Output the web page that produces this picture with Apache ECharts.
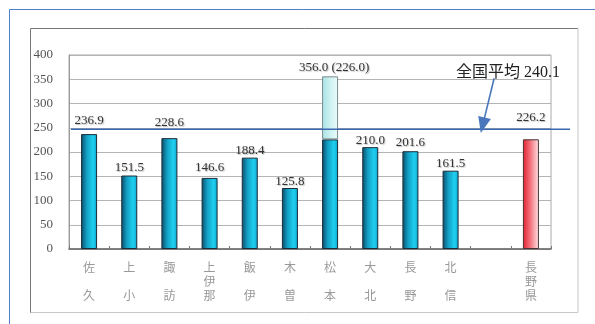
<!DOCTYPE html>
<html>
<head>
<meta charset="utf-8">
<script src="https://cdn.jsdelivr.net/npm/echarts@6/dist/echarts.min.js"></script>
<style>
  html, body { margin: 0; padding: 0; background: #fff; }
  #chart { width: 595px; height: 324px; }
</style>
</head>
<body>
<div id="chart"></div>
<script>
// 地域ごとの値（空欄は長野県との間のすき間）
const regions = ['佐久', '上小', '諏訪', '上伊那', '飯伊', '木曽', '松本', '大北', '長野', '北信', '', '長野県']
const regionValues = [236.9, 151.5, 228.6, 146.6, 188.4, 125.8, 226.0, 210.0, 201.6, 161.5, '-', '-']
const matsumotoTotal = 356.0
const matsumotoBase = 226.0
const prefValue = 226.2
const nationalAvg = 240.1
// 図の上では平均線は目盛りで約247の高さに描かれている
const avgLineLevel = 247
const yTicks = [0, 50, 100, 150, 200, 250, 300, 350, 400]
// 数値ラベルと棒の間のすき間（元の図に合わせる）
const labelGaps = [7, 1, 9, 4, 1, 0, 0, 0, 2, 1, 0, 15]

const serif = "'Liberation Serif', 'DejaVu Serif', 'Noto Sans CJK JP', serif"

const extraValues = regions.map(r => r === '松本' ? +(matsumotoTotal - matsumotoBase).toFixed(1) : '-')
const prefValues = regions.map(r => r === '長野県' ? prefValue : '-')

const blueFill = new echarts.graphic.LinearGradient(0, 0, 1, 0, [
  { offset: 0, color: '#0b4a66' },
  { offset: 0.35, color: '#139fc4' },
  { offset: 0.75, color: '#1fd0f0' },
  { offset: 1, color: '#0aa2cc' }
])
const lightFill = new echarts.graphic.LinearGradient(0, 0, 1, 0, [
  { offset: 0, color: '#a8e2e4' },
  { offset: 0.6, color: '#d4f4f4' },
  { offset: 1, color: '#eafafa' }
])
const redFill = new echarts.graphic.LinearGradient(0, 0, 1, 0, [
  { offset: 0, color: '#e0202e' },
  { offset: 0.5, color: '#f47a84' },
  { offset: 1, color: '#ffe6e8' }
])

const valueLabel = {
  show: true,
  position: 'top',
  distance: 4,
  fontFamily: serif,
  fontSize: 13,
  color: '#333',
  textShadowColor: 'rgba(0,0,0,0.25)',
  textShadowBlur: 1,
  textShadowOffsetX: 1,
  textShadowOffsetY: 1
}

const withGaps = values => values.map((v, i) => v === '-' ? '-' : { value: v, label: { distance: labelGaps[i] } })

const chart = echarts.init(document.getElementById('chart'))

chart.setOption({
  animation: false,
  title: {
    text: '全国平均 ' + nationalAvg.toFixed(1),
    left: 451,
    top: 60,
    textStyle: { fontFamily: serif, fontSize: 16, fontWeight: 'normal', color: '#222' }
  },
  graphic: [
    { type: 'line', shape: { x1: 9.5, y1: 9.5, x2: 595, y2: 9.5 }, style: { stroke: '#4f7fc8', lineWidth: 1 } },
    { type: 'line', shape: { x1: 9.5, y1: 9.5, x2: 9.5, y2: 324 }, style: { stroke: '#4f7fc8', lineWidth: 1 } },
    { type: 'polyline', shape: { points: [[30.5, 313], [30.5, 28.5], [578, 28.5]] }, style: { stroke: '#777', lineWidth: 1, fill: null } },
    { type: 'polyline', shape: { points: [[578, 28.5], [578, 312.5], [30.5, 312.5]] }, style: { stroke: '#c8c8c8', lineWidth: 1, fill: null } }
  ],
  grid: [
    { left: 69, right: 44, top: 55, bottom: 75, show: true, borderColor: '#aaa', borderWidth: 1 },
    { left: 71, right: 25, top: 55, bottom: 75 }
  ],
  xAxis: [
    {
      type: 'category',
      gridIndex: 0,
      data: regions,
      axisLine: { lineStyle: { color: '#666', width: 1.5 } },
      axisTick: { show: true, inside: true, length: 3, lineStyle: { color: '#777' } },
      axisLabel: {
        interval: 0,
        margin: 11,
        color: '#999',
        fontSize: 12,
        lineHeight: 14,
        fontFamily: "'Noto Sans CJK JP', sans-serif",
        formatter: v => v.length === 2 ? v[0] + '\n\n' + v[1] : v.split('').join('\n')
      }
    },
    { type: 'value', gridIndex: 1, min: 0, max: 100, show: false }
  ],
  yAxis: [
    {
      type: 'value',
      gridIndex: 0,
      min: yTicks[0],
      max: yTicks[yTicks.length - 1],
      interval: yTicks[1] - yTicks[0],
      axisLine: { show: true, lineStyle: { color: '#999' } },
      axisTick: { show: false },
      axisLabel: { margin: 16, color: '#555', fontSize: 13, fontFamily: serif },
      splitLine: { lineStyle: { color: '#b4b4b4' } }
    },
    { type: 'value', gridIndex: 1, min: yTicks[0], max: yTicks[yTicks.length - 1], show: false }
  ],
  series: [
    {
      type: 'bar',
      stack: 'r',
      barWidth: 16,
      data: withGaps(regionValues),
      itemStyle: { color: blueFill, borderColor: '#1c2c38', borderWidth: 1 },
      label: {
        ...valueLabel,
        formatter: p => regions[p.dataIndex] === '松本' ? '' : p.value.toFixed(1)
      }
    },
    {
      type: 'bar',
      stack: 'r',
      barWidth: 16,
      data: extraValues,
      itemStyle: { color: lightFill, borderColor: '#7a8a8c', borderWidth: 1 },
      label: {
        ...valueLabel,
        distance: 2,
        offset: [4, 0],
        formatter: () => matsumotoTotal.toFixed(1) + ' (' + matsumotoBase.toFixed(1) + ')'
      }
    },
    {
      type: 'bar',
      stack: 'r',
      barWidth: 17,
      data: withGaps(prefValues),
      itemStyle: { color: redFill, borderColor: '#4a3434', borderWidth: 1 },
      label: { ...valueLabel, formatter: p => p.value.toFixed(1) }
    },
    {
      // 全国平均の線（プロット枠の右側まで伸びる）
      type: 'line',
      xAxisIndex: 1,
      yAxisIndex: 1,
      data: [[0, avgLineLevel], [100, avgLineLevel]],
      symbol: 'none',
      lineStyle: { color: '#3a67b0', width: 1.6 },
      markLine: {
        silent: true,
        symbol: ['none', 'triangle'],
        symbolSize: [13, 16],
        label: { show: false },
        lineStyle: { color: '#4a76bc', width: 1.6, type: 'solid' },
        data: [[{ coord: [84.8, 352] }, { coord: [82.5, avgLineLevel + 8] }]]
      }
    }
  ]
})
</script>
</body>
</html>
